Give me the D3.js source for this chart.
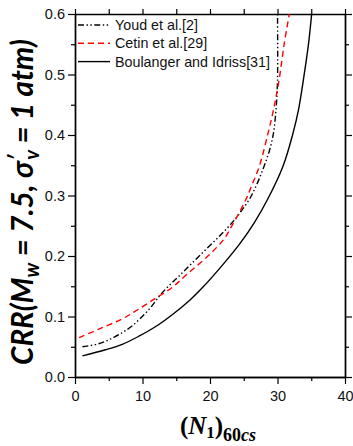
<!DOCTYPE html>
<html>
<head>
<meta charset="utf-8">
<script src="https://cdn.jsdelivr.net/npm/d3@7"></script>
<style>
	body { margin: 0; background: #fff; }
	text { font-family: "Liberation Sans", Arial, sans-serif; }
</style>
</head>
<body>
<div id="chart"></div>
<script>
let width = 353,
	height = 446;

let margin = { top: 14, right: 8, bottom: 69, left: 75 };

// values: [ (N1)60cs , CRR ]
let youd = [
	[1.1, 0.050], [3.5, 0.055], [6.0, 0.067], [8.4, 0.084], [10.9, 0.111],
	[12.9, 0.139], [15.6, 0.169], [18.5, 0.201], [21.5, 0.234], [23.5, 0.258],
	[24.6, 0.274], [25.9, 0.295], [27.0, 0.320], [28.0, 0.348], [28.8, 0.374],
	[29.4, 0.403], [29.8, 0.445], [30.0, 0.49], [30.0, 0.6]
];
let cetin = [
	[0.6, 0.065], [3.5, 0.079], [7.0, 0.096], [9.4, 0.112], [11.9, 0.130],
	[14.4, 0.148], [16.5, 0.169], [19.5, 0.198], [22.0, 0.227], [23.3, 0.251],
	[25.3, 0.293], [26.2, 0.317], [27.3, 0.348], [28.6, 0.403], [29.5, 0.447],
	[30.3, 0.496], [31.0, 0.551], [31.75, 0.6]
];
let boulanger = [
	[1.1, 0.035], [4.5, 0.045], [7.0, 0.054], [9.4, 0.067], [11.9, 0.083],
	[14.4, 0.103], [17.0, 0.127], [19.0, 0.149], [22.0, 0.187], [24.4, 0.220],
	[26.5, 0.254], [28.5, 0.293], [30.8, 0.348], [32.3, 0.403], [33.1, 0.441],
	[33.9, 0.496], [34.6, 0.551], [35.06, 0.6]
];

let xTicks = [0, 10, 20, 30, 40],
	xMinor = [5, 15, 25, 35],
	yTicks = [0, 0.1, 0.2, 0.3, 0.4, 0.5, 0.6],
	yMinor = [0.05, 0.15, 0.25, 0.35, 0.45, 0.55];

let series = [
	{ name: "Youd et al.[2]", values: youd, color: "#000", dash: "6,2.5,1.4,2.5,1.4,2.5" },
	{ name: "Cetin et al.[29]", values: cetin, color: "#ff0000", dash: "6,4" },
	{ name: "Boulanger and Idriss[31]", values: boulanger, color: "#000", dash: null }
];

let svg = d3.select('#chart').append('svg')
	.attr('width', width)
	.attr('height', height)

let x = d3.scaleLinear()
	.domain([0, 40])
	.range([margin.left, width - margin.right]);

let y = d3.scaleLinear()
	.domain([0, 0.6])
	.range([height - margin.bottom, margin.top]);

// clip so curves stop at the top frame
svg.append('clipPath').attr('id', 'clip')
	.append('rect')
	.attr('x', x(0)).attr('y', y(0.6))
	.attr('width', x(40) - x(0)).attr('height', y(0) - y(0.6));

// axes, all four sides, ticks pointing outward
function styleAxis(g) {
	g.select('.domain').attr('stroke-width', 1.4);
	g.selectAll('line').attr('stroke-width', 1.2);
	g.selectAll('text').attr('font-size', 14.5).attr('fill', '#111');
}

let xAxis = d3.axisBottom(x).tickValues(xTicks).tickSize(7).tickPadding(7).tickSizeOuter(0);
let yAxis = d3.axisLeft(y).tickValues(yTicks).tickSize(7).tickPadding(3).tickFormat(d3.format('.1f')).tickSizeOuter(0);

svg.append('g')
	.attr('transform', 'translate(0,' + y(0) + ')')
	.call(xAxis)
	.call(styleAxis);

svg.append('g')
	.attr('transform', 'translate(0,' + y(0) + ')')
	.call(d3.axisBottom(x).tickValues(xMinor).tickSize(4).tickFormat('').tickSizeOuter(0))
	.call(styleAxis);

svg.append('g')
	.attr('transform', 'translate(0,' + y(0.6) + ')')
	.call(d3.axisTop(x).tickValues(xTicks.concat(xMinor)).tickSize(5).tickFormat('').tickSizeOuter(0))
	.call(styleAxis);

svg.append('g')
	.attr('transform', 'translate(' + x(0) + ',0)')
	.call(yAxis)
	.call(styleAxis);

svg.append('g')
	.attr('transform', 'translate(' + x(0) + ',0)')
	.call(d3.axisLeft(y).tickValues(yMinor).tickSize(4).tickFormat('').tickSizeOuter(0))
	.call(styleAxis);

svg.append('g')
	.attr('transform', 'translate(' + x(40) + ',0)')
	.call(d3.axisRight(y).tickValues(yTicks).tickSize(7).tickFormat('').tickSizeOuter(0))
	.call(styleAxis);

svg.append('g')
	.attr('transform', 'translate(' + x(40) + ',0)')
	.call(d3.axisRight(y).tickValues(yMinor).tickSize(4).tickFormat('').tickSizeOuter(0))
	.call(styleAxis);

// curves
let line = d3.line()
	.x(function (d) { return x(d[0]) })
	.y(function (d) { return y(d[1]) })
	.curve(d3.curveCatmullRom.alpha(0.5));

svg.append('g').attr('clip-path', 'url(#clip)')
	.selectAll('path.curve')
	.data(series)
	.enter().append('path').classed('curve', true)
	.attr('d', function (d) { return line(d.values) })
	.attr('fill', 'none')
	.attr('stroke', function (d) { return d.color })
	.attr('stroke-width', 1.4)
	.attr('stroke-dasharray', function (d) { return d.dash });

// legend
let legend = svg.append('g').selectAll('g')
	.data(series)
	.enter().append('g')
	.attr('transform', function (d, i) { return 'translate(78,' + (25 + i * 18.3) + ')' });

legend.append('line')
	.attr('x1', 0).attr('x2', 32)
	.attr('stroke', function (d) { return d.color })
	.attr('stroke-width', 1.4)
	.attr('stroke-dasharray', function (d) { return d.dash });

legend.append('text')
	.attr('x', 37).attr('dy', '0.36em')
	.attr('font-size', 14.3)
	.attr('fill', '#111')
	.text(function (d) { return d.name });

// y title
let yTitle = svg.append('text')
	.attr('transform', 'translate(33,202) rotate(-90)')
	.attr('text-anchor', 'middle')
	.style('font-family', 'Lato, "Open Sans", sans-serif')
	.attr('font-size', 29.5)
	.attr('font-weight', 'bold')
	.attr('font-style', 'italic');
yTitle.append('tspan').text('CRR(M');
yTitle.append('tspan').attr('font-size', 20).attr('dy', 6).text('w');
yTitle.append('tspan').attr('dy', -6).text(' = 7.5, σ');
yTitle.append('tspan').attr('font-size', 20).attr('dy', -9).text('′');
yTitle.append('tspan').attr('font-size', 20).attr('dx', -5).attr('dy', 15).text('v');
yTitle.append('tspan').attr('dy', -6).text('  =  1 atm)');

// x title
let xTitle = svg.append('text')
	.attr('x', 218)
	.attr('y', 434)
	.attr('text-anchor', 'middle')
	.style('font-family', '"Liberation Serif", "DejaVu Serif", serif')
	.attr('font-size', 25)
	.attr('font-weight', 'bold');
xTitle.append('tspan').text('(');
xTitle.append('tspan').attr('font-style', 'italic').text('N');
xTitle.append('tspan').attr('font-size', 17).attr('dy', 4).text('1');
xTitle.append('tspan').attr('dy', -4).text(')');
xTitle.append('tspan').attr('font-size', 18).attr('dy', 7).text('60');
xTitle.append('tspan').attr('font-size', 18).attr('font-style', 'italic').text('cs');
</script>
</body>
</html>
